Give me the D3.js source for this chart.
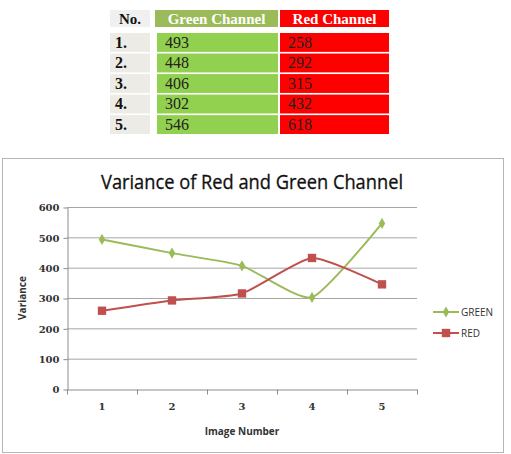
<!DOCTYPE html>
<html>
<head>
<meta charset="utf-8">
<script src="https://cdn.jsdelivr.net/npm/d3@7"></script>
<style>
  body { margin: 0; background: #fff; }
  svg { display: block; }
</style>
</head>
<body>
<svg id="chart" width="511" height="454"></svg>
<script>
// table values
const rowLabels = ["1.", "2.", "3.", "4.", "5."];
const greenTable = [493, 448, 406, 302, 546];
const redTable = [258, 292, 315, 432, 618];
const headers = ["No.", "Green Channel", "Red Channel"];

// chart values (as plotted)
const categories = ["1", "2", "3", "4", "5"];
const greenSeries = [493, 448, 406, 302, 546];
const redSeries = [258, 292, 315, 432, 345];
const yTicks = [0, 100, 200, 300, 400, 500, 600];

const svg = d3.select("#chart");

// ---- table ----
const cols = [
  { x: 110, w: 40, head: "#f0f0f0", body: "#edebe5", headText: "#111" },
  { x: 155, w: 123, head: "#9bbb59", body: "#92d050", headText: "#fff" },
  { x: 280, w: 109, head: "#ff0000", body: "#ff0000", headText: "#fff" }
];
const tbl = svg.append("g").style("font-family", "'Liberation Serif', 'DejaVu Serif', serif");

headers.forEach((h, i) => {
  const c = cols[i];
  tbl.append("rect").attr("x", c.x).attr("y", 10).attr("width", c.w).attr("height", 17).attr("fill", c.head);
  tbl.append("text").attr("x", c.x + c.w / 2).attr("y", 24)
    .attr("text-anchor", "middle").attr("font-size", 15).attr("font-weight", "bold")
    .attr("fill", c.headText).text(h);
});

const rowY = d3.scaleBand().domain(rowLabels).range([33, 134]).paddingInner(0.08);
rowLabels.forEach((r, i) => {
  const y = rowY(r), h = rowY.bandwidth();
  const vals = [r, greenTable[i], redTable[i]];
  vals.forEach((v, j) => {
    const c = cols[j];
    const x = j === 1 ? c.x + 2 : c.x;
    const w = j === 1 ? c.w - 2 : c.w;
    tbl.append("rect").attr("x", x).attr("y", y).attr("width", w).attr("height", h).attr("fill", c.body);
    tbl.append("text").attr("x", j === 0 ? x + 5 : x + 8).attr("y", y + h - 4)
      .attr("font-size", 16).attr("font-weight", j === 0 ? "bold" : "normal")
      .attr("fill", j === 0 ? "#111" : "#222").text(v);
  });
});

// ---- chart ----
svg.append("rect").attr("x", 2.5).attr("y", 158.5).attr("width", 501).attr("height", 294)
  .attr("fill", "#fff").attr("stroke", "#b5b5b5");

svg.append("text").attr("x", 252).attr("y", 189).attr("text-anchor", "middle")
  .attr("font-family", "'Open Sans', 'Noto Sans', sans-serif").attr("font-size", 20)
  .attr("fill", "#111").attr("stroke", "#111").attr("stroke-width", 0.3)
  .attr("textLength", 302).attr("lengthAdjust", "spacingAndGlyphs")
  .text("Variance of Red and Green Channel");

const x = d3.scaleBand().domain(categories).range([67, 417]);
const y = d3.scaleLinear().domain([0, 600]).range([389, 207]);

const axisFont = "'DejaVu Serif', serif";

// gridlines
svg.append("g").selectAll("line").data(yTicks.filter(d => d > 0)).join("line")
  .attr("x1", 67).attr("x2", 417)
  .attr("y1", d => y(d) + 0.5).attr("y2", d => y(d) + 0.5)
  .attr("stroke", "#a6a6a6").attr("stroke-width", 1);

// y axis
const yAxis = svg.append("g").attr("transform", "translate(67.5,0.5)")
  .call(d3.axisLeft(y).tickValues(yTicks).tickSize(4).tickSizeOuter(0));
yAxis.select(".domain").attr("stroke", "#8c8c8c");
yAxis.selectAll(".tick line").attr("stroke", "#8c8c8c");
yAxis.selectAll("text").attr("font-family", axisFont).attr("font-size", 10)
  .attr("font-weight", "bold").attr("fill", "#333").attr("x", -8);

// x axis
const xAxis = svg.append("g").attr("transform", "translate(0,389.5)")
  .call(d3.axisBottom(x).tickSize(0).tickPadding(13));
xAxis.select(".domain").attr("stroke", "#8c8c8c");
xAxis.selectAll("text").attr("font-family", axisFont).attr("font-size", 10)
  .attr("font-weight", "bold").attr("fill", "#333");
// category boundary ticks
xAxis.append("g").selectAll("line").data(categories.concat(["end"])).join("line")
  .attr("x1", (d, i) => x.range()[0] + i * x.step() + 0.5)
  .attr("x2", (d, i) => x.range()[0] + i * x.step() + 0.5)
  .attr("y1", 0).attr("y2", 5).attr("stroke", "#8c8c8c");

// axis titles
svg.append("text").attr("x", 242).attr("y", 435).attr("text-anchor", "middle")
  .attr("font-family", "'Open Sans', sans-serif").attr("font-size", 10).attr("font-weight", "bold")
  .attr("fill", "#333").text("Image Number");
svg.append("text").attr("transform", "translate(26,298) rotate(-90)").attr("text-anchor", "middle")
  .attr("font-family", "'Open Sans', sans-serif").attr("font-size", 10).attr("font-weight", "bold")
  .attr("fill", "#333").text("Variance");

// lines (smoothed like the original)
const cx = c => x(c) + x.bandwidth() / 2;
const line = d3.line().x((d, i) => cx(categories[i])).y(d => y(d)).curve(d3.curveCardinal.tension(0.45));

const series = [
  { name: "GREEN", values: greenSeries, color: "#9bbb59", marker: d3.symbolDiamond, size: 36 },
  { name: "RED", values: redSeries, color: "#c0504d", marker: d3.symbolSquare, size: 70 }
];

series.forEach(s => {
  svg.append("path").datum(s.values).attr("d", line)
    .attr("fill", "none").attr("stroke", s.color).attr("stroke-width", 2);
  svg.append("g").selectAll("path").data(s.values).join("path")
    .attr("transform", (d, i) => `translate(${cx(categories[i])},${y(d)})`)
    .attr("d", d3.symbol().type(s.marker).size(s.size))
    .attr("fill", s.color);
});

// legend
const legend = svg.append("g").selectAll("g").data(series).join("g")
  .attr("transform", (d, i) => `translate(433,${312 + i * 21})`);
legend.append("line").attr("x1", 0).attr("x2", 26).attr("stroke", d => d.color).attr("stroke-width", 2);
legend.append("path").attr("transform", "translate(13,0)")
  .attr("d", d => d3.symbol().type(d.marker).size(d.size)()).attr("fill", d => d.color);
legend.append("text").attr("x", 28).attr("y", 4)
  .attr("font-family", "'Open Sans', sans-serif").attr("font-size", 10).attr("fill", "#333")
  .text(d => d.name);
</script>
</body>
</html>
